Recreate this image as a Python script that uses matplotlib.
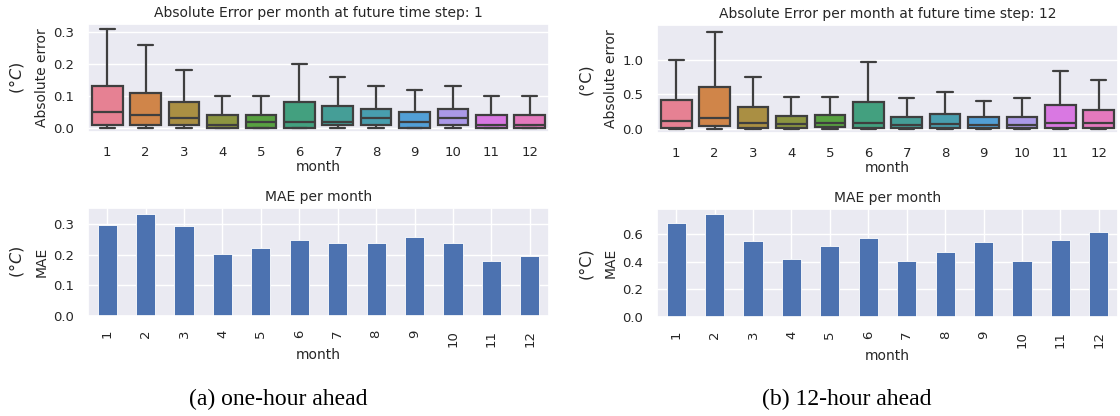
import numpy as np
import matplotlib
matplotlib.use("Agg")
import matplotlib.pyplot as plt
import seaborn as sns

sns.set_theme(style="darkgrid")
plt.rcParams['font.family'] = ['DejaVu Sans']

months = [str(m) for m in range(1, 13)]

# box stats, step 1 (whislo, q1, median, q3, whishi)
s1_lo = [0, 0, 0, 0, 0, 0, 0, 0, 0, 0, 0, 0]
s1_q1 = [0.01, 0.01, 0.01, 0.0, 0.0, 0.0, 0.01, 0.01, 0.0, 0.01, 0.0, 0.0]
s1_med = [0.05, 0.04, 0.03, 0.01, 0.02, 0.02, 0.018, 0.03, 0.02, 0.03, 0.01, 0.01]
s1_q3 = [0.13, 0.11, 0.08, 0.04, 0.04, 0.08, 0.07, 0.06, 0.05, 0.06, 0.04, 0.04]
s1_hi = [0.31, 0.26, 0.18, 0.10, 0.10, 0.20, 0.16, 0.13, 0.12, 0.13, 0.10, 0.10]

# box stats, step 12
s12_lo = [0, 0, 0, 0, 0, 0, 0, 0, 0, 0, 0, 0]
s12_q1 = [0.02, 0.05, 0.01, 0.02, 0.03, 0.01, 0.01, 0.02, 0.01, 0.01, 0.02, 0.01]
s12_med = [0.12, 0.16, 0.09, 0.07, 0.08, 0.09, 0.06, 0.07, 0.06, 0.06, 0.08, 0.08]
s12_q3 = [0.42, 0.60, 0.31, 0.19, 0.20, 0.39, 0.18, 0.22, 0.17, 0.18, 0.35, 0.28]
s12_hi = [1.00, 1.40, 0.75, 0.46, 0.46, 0.96, 0.44, 0.54, 0.41, 0.44, 0.83, 0.71]

mae_1 = [0.298, 0.335, 0.293, 0.202, 0.222, 0.248, 0.238, 0.238, 0.258, 0.238, 0.180, 0.196]
mae_12 = [0.68, 0.75, 0.55, 0.42, 0.515, 0.575, 0.41, 0.475, 0.545, 0.41, 0.56, 0.62]

W, H = 1120, 416
fig = plt.figure(figsize=(W / 100, H / 100), dpi=100)


def px_axes(x0, y0, x1, y1):
    return fig.add_axes([x0 / W, (H - y1) / H, (x1 - x0) / W, (y1 - y0) / H])


FS = 10      # titles / axis labels
TS = 9.5     # tick labels
pal = [sns.desaturate(c, 0.75) for c in sns.color_palette("husl", 12)]
line_c = "#3f3f3f"


def box_panel(ax, lo, q1, med, q3, hi, step, ylim, yticks):
    stats = [dict(whislo=a, q1=b, med=c, q3=d, whishi=e, fliers=[])
             for a, b, c, d, e in zip(lo, q1, med, q3, hi)]
    bp = ax.bxp(stats, positions=range(12), widths=0.8, patch_artist=True,
                capwidths=0.4, showfliers=False,
                boxprops=dict(edgecolor=line_c, linewidth=1.6),
                whiskerprops=dict(color=line_c, linewidth=1.6),
                capprops=dict(color=line_c, linewidth=1.6),
                medianprops=dict(color=line_c, linewidth=1.6))
    for patch, c in zip(bp['boxes'], pal):
        patch.set_facecolor(c)
    ax.set_xticks(range(12))
    ax.set_xticklabels(months)
    ax.set_xlim(-0.5, 11.5)
    ax.set_ylim(*ylim)
    ax.set_yticks(yticks)
    ax.grid(False, axis='x')
    ax.set_xlabel("month", fontsize=FS, labelpad=1)
    ax.set_ylabel("Absolute error", fontsize=FS, labelpad=3)
    ax.set_title(f"Absolute Error per month at future time step: {step}", fontsize=FS, pad=5)
    ax.tick_params(labelsize=TS, pad=4)


def bar_panel(ax, vals, ylim, yticks):
    ax.bar(range(12), vals, width=0.5, color="#4c72b0", edgecolor="white", linewidth=0.6)
    ax.set_xticks(range(12))
    ax.set_xticklabels(months, rotation=90)
    ax.set_xlim(-0.5, 11.5)
    ax.set_ylim(*ylim)
    ax.set_yticks(yticks)
    ax.set_xlabel("month", fontsize=FS, labelpad=1)
    ax.set_ylabel("MAE", fontsize=FS, labelpad=3)
    ax.set_title("MAE per month", fontsize=FS, pad=5)
    ax.tick_params(labelsize=TS, pad=4)


ax1 = px_axes(88, 24, 549, 132)
box_panel(ax1, s1_lo, s1_q1, s1_med, s1_q3, s1_hi, 1, (-0.0125, 0.325), [0, 0.1, 0.2, 0.3])
ax2 = px_axes(88, 208, 549, 316)
bar_panel(ax2, mae_1, (0, 0.353), [0, 0.1, 0.2, 0.3])

ax3 = px_axes(657, 25, 1118, 133)
box_panel(ax3, s12_lo, s12_q1, s12_med, s12_q3, s12_hi, 12, (-0.058, 1.50), [0, 0.5, 1.0])
ax4 = px_axes(657, 209, 1118, 317)
bar_panel(ax4, mae_12, (0, 0.785), [0, 0.2, 0.4, 0.6])

for x, yc, lab in [(17, 78, "(°$C$)"), (17, 262, "(°$C$)"),
                   (586, 79, "(°C)"), (586, 263, "(°C)")]:
    fig.text(x / W, 1 - yc / H, lab, rotation=90, ha='center', va='center',
             fontsize=11.5, color=".15")

cap_font = dict(family=['Liberation Serif'], fontsize=17, color='black', ha='center', va='center')
fig.text(278 / W, 1 - 399 / H, "(a) one-hour ahead", **cap_font)
fig.text(847 / W, 1 - 399 / H, "(b) 12-hour ahead", **cap_font)

fig.savefig("out.png", dpi=100)
